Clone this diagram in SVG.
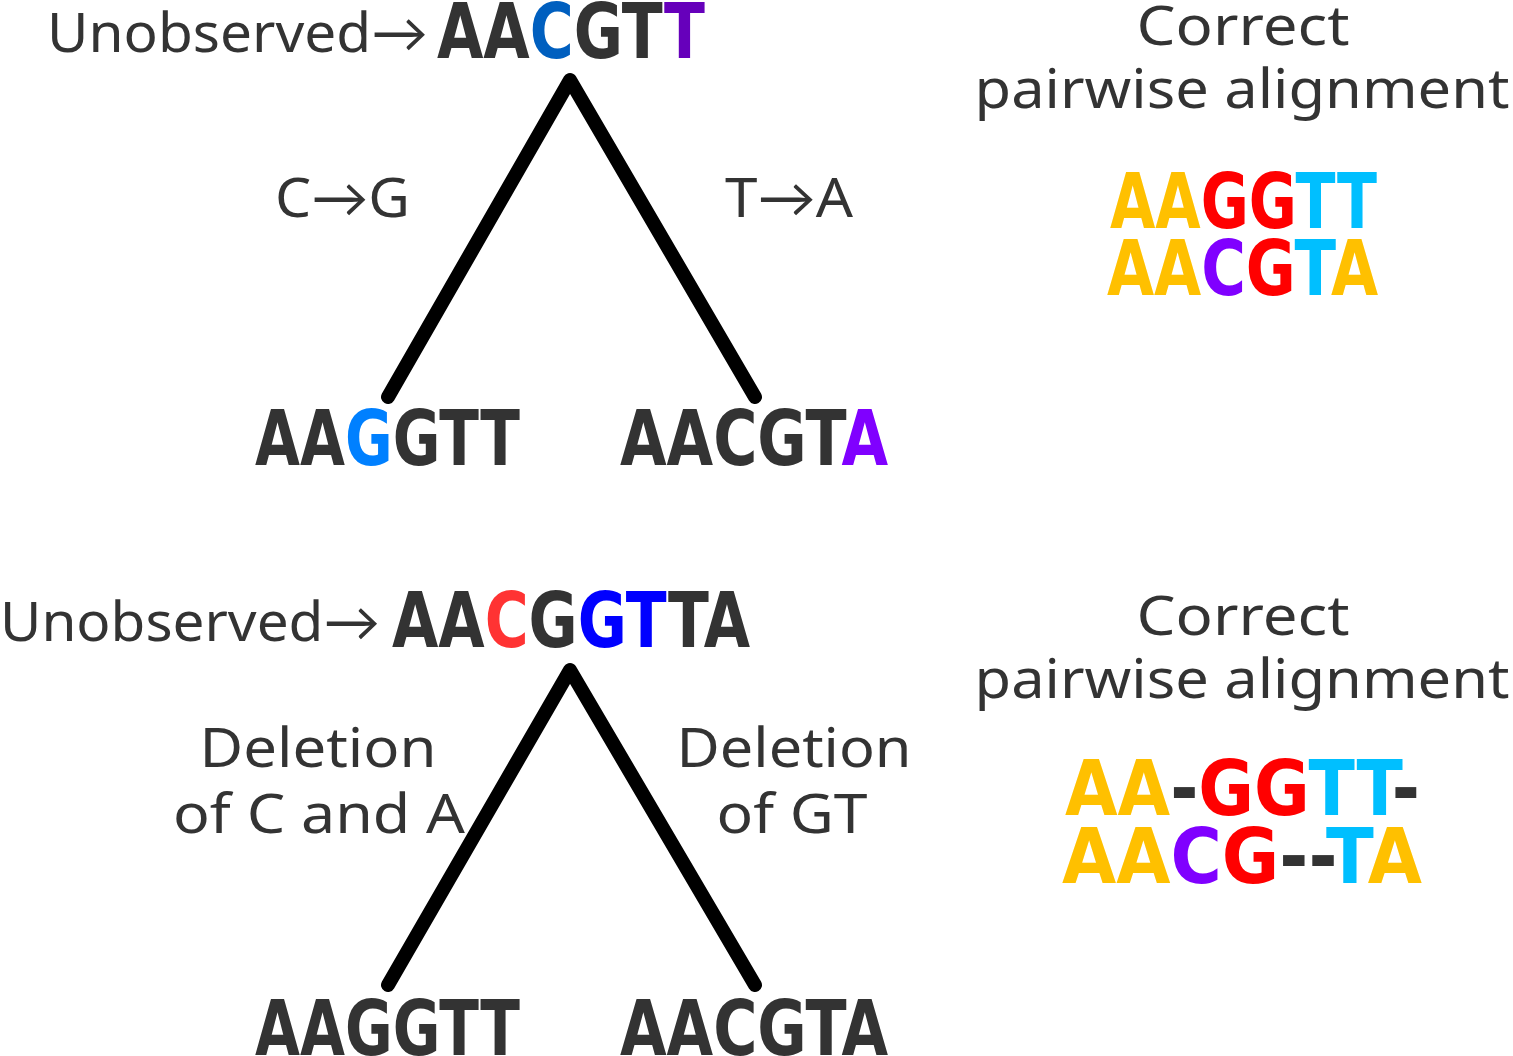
<svg xmlns="http://www.w3.org/2000/svg" width="1513" height="1056" viewBox="0 0 1513 1056">
<style>
.lbl{font-family:"Noto Sans","Lato",sans-serif;font-size:54px;fill:#333;}
.seq{font-family:"Liberation Sans Narrow","DejaVu Sans Condensed","Roboto",sans-serif;font-weight:bold;font-size:77px;fill:#333;}
.edge{fill:none;stroke:#000;stroke-width:14;stroke-linecap:round;stroke-linejoin:round;}
.y{fill:#ffc000}.r{fill:#ff0000}.c{fill:#00bfff}.p{fill:#8000ff}
</style>
<rect width="1513" height="1056" fill="#fff"/>
<g id="connectors">
<polyline class="edge" points="388,397 570,80 755,397"/>
<polyline class="edge" points="388,985 570,670 755,985"/>
</g>
<g id="top-root">
<text class="lbl" x="47" y="52" textLength="381" lengthAdjust="spacingAndGlyphs">Unobserved→</text>
<text class="seq" x="437" y="58" textLength="268" lengthAdjust="spacingAndGlyphs">AA<tspan fill="#005fbf">C</tspan>GT<tspan fill="#6600bb">T</tspan></text>
</g>
<g id="top-left-label"><text class="lbl" x="275" y="217" textLength="135" lengthAdjust="spacingAndGlyphs">C→G</text></g>
<g id="top-right-label"><text class="lbl" x="725" y="217" textLength="128" lengthAdjust="spacingAndGlyphs">T→A</text></g>
<g id="top-left-leaf"><text class="seq" x="255" y="465" textLength="265" lengthAdjust="spacingAndGlyphs">AA<tspan fill="#0080ff">G</tspan>GTT</text></g>
<g id="top-right-leaf"><text class="seq" x="620" y="465" textLength="268" lengthAdjust="spacingAndGlyphs">AACGT<tspan fill="#8000ff">A</tspan></text></g>
<g id="top-alignment-title">
<text class="lbl" x="1243" y="45" text-anchor="middle" textLength="213" lengthAdjust="spacingAndGlyphs">Correct</text>
<text class="lbl" x="1242" y="108" text-anchor="middle" textLength="535" lengthAdjust="spacingAndGlyphs">pairwise alignment</text>
</g>
<g id="top-alignment">
<text class="seq" x="1110" y="228" textLength="267" lengthAdjust="spacingAndGlyphs"><tspan class="y">AA</tspan><tspan class="r">GG</tspan><tspan class="c">TT</tspan></text>
<text class="seq" x="1107" y="295" textLength="271" lengthAdjust="spacingAndGlyphs"><tspan class="y">AA</tspan><tspan class="p">C</tspan><tspan class="r">G</tspan><tspan class="c">T</tspan><tspan class="y">A</tspan></text>
</g>
<g id="bottom-root">
<text class="lbl" x="0" y="641" textLength="380" lengthAdjust="spacingAndGlyphs">Unobserved→</text>
<text class="seq" x="392" y="647" textLength="358" lengthAdjust="spacingAndGlyphs">AA<tspan fill="#ff3333">C</tspan>G<tspan fill="#0000ff">GT</tspan>TA</text>
</g>
<g id="bottom-left-label">
<text class="lbl" x="318" y="767" text-anchor="middle" textLength="237" lengthAdjust="spacingAndGlyphs">Deletion</text>
<text class="lbl" x="319" y="833" text-anchor="middle" textLength="292" lengthAdjust="spacingAndGlyphs">of C and A</text>
</g>
<g id="bottom-right-label">
<text class="lbl" x="794" y="767" text-anchor="middle" textLength="235" lengthAdjust="spacingAndGlyphs">Deletion</text>
<text class="lbl" x="792" y="833" text-anchor="middle" textLength="151" lengthAdjust="spacingAndGlyphs">of GT</text>
</g>
<g id="bottom-left-leaf"><text class="seq" x="255" y="1055" textLength="265" lengthAdjust="spacingAndGlyphs">AAGGTT</text></g>
<g id="bottom-right-leaf"><text class="seq" x="620" y="1055" textLength="268" lengthAdjust="spacingAndGlyphs">AACGTA</text></g>
<g id="bottom-alignment-title">
<text class="lbl" x="1243" y="635" text-anchor="middle" textLength="213" lengthAdjust="spacingAndGlyphs">Correct</text>
<text class="lbl" x="1242" y="698" text-anchor="middle" textLength="535" lengthAdjust="spacingAndGlyphs">pairwise alignment</text>
</g>
<g id="bottom-alignment">
<text class="seq" x="1065" y="815" textLength="355" lengthAdjust="spacingAndGlyphs"><tspan class="y">AA</tspan>-<tspan class="r">GG</tspan><tspan class="c">TT</tspan>-</text>
<text class="seq" x="1062" y="883" textLength="360" lengthAdjust="spacingAndGlyphs"><tspan class="y">AA</tspan><tspan class="p">C</tspan><tspan class="r">G</tspan>--<tspan class="c">T</tspan><tspan class="y">A</tspan></text>
</g>
</svg>
